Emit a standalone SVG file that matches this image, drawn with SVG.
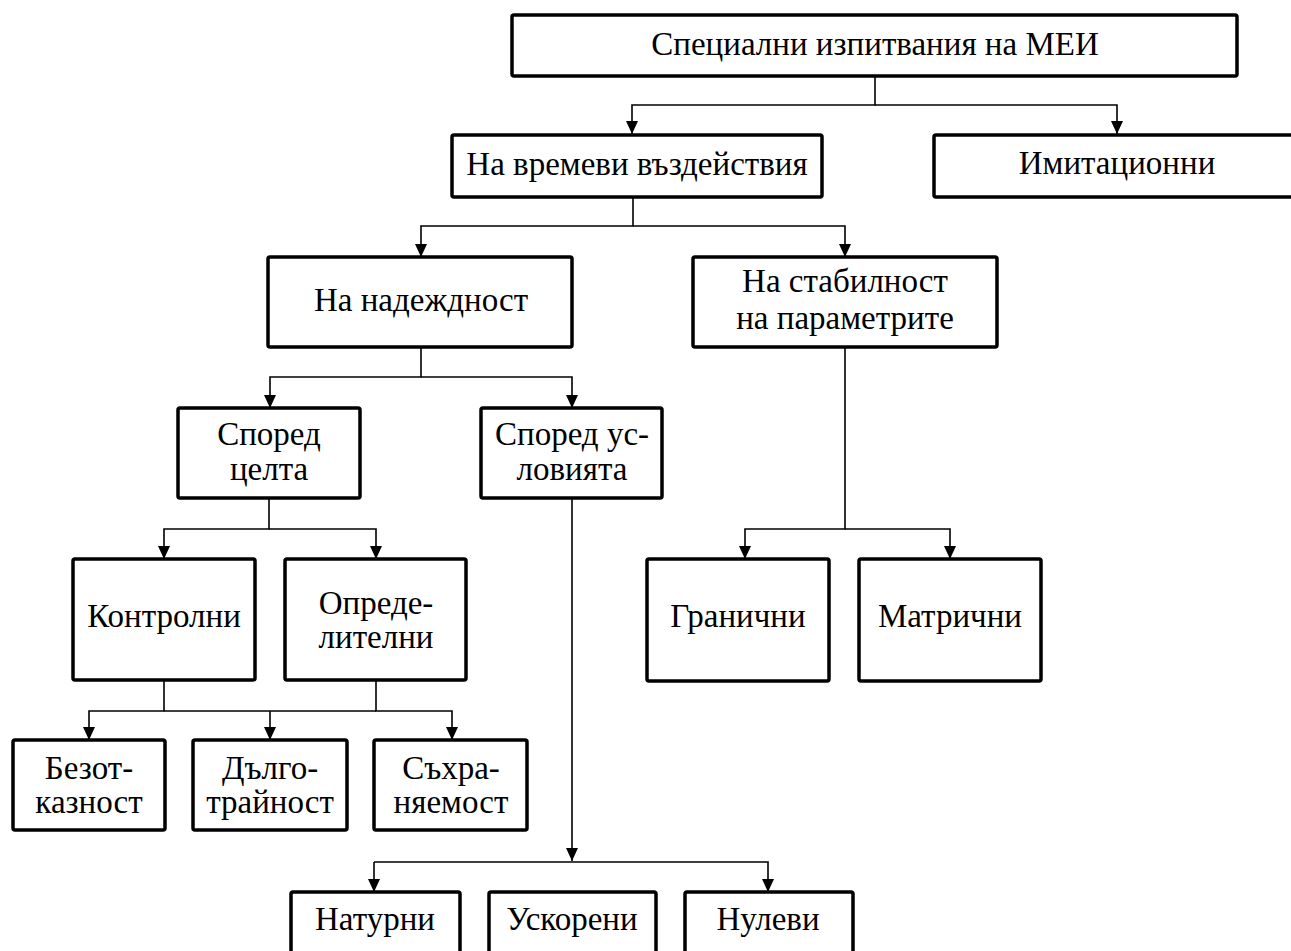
<svg xmlns="http://www.w3.org/2000/svg" width="1291" height="951" viewBox="0 0 1291 951">
<style>
.box{fill:#fff;stroke:#000;stroke-width:3.5;}
.t{font-family:'Liberation Serif','DejaVu Serif',serif;font-size:33px;fill:#000;text-anchor:middle;}
.c{fill:none;stroke:#000;stroke-width:1.6;}
</style>
<defs>
<marker id="ar" markerWidth="14" markerHeight="12" refX="13" refY="6" orient="auto" markerUnits="userSpaceOnUse">
<path d="M0,0 L13,6 L0,12 Z" fill="#000"/>
</marker>
</defs>
<rect width="1291" height="951" fill="#fff"/>
<g id="connectors">
<path class="c" d="M875,76 V105 H632 V134" marker-end="url(#ar)"/>
<path class="c" d="M875,105 H1117 V134" marker-end="url(#ar)"/>
<path class="c" d="M633,197 V226 H421 V257" marker-end="url(#ar)"/>
<path class="c" d="M633,226 H845 V257" marker-end="url(#ar)"/>
<path class="c" d="M421,347 V377 H270 V408" marker-end="url(#ar)"/>
<path class="c" d="M421,377 H572 V408" marker-end="url(#ar)"/>
<path class="c" d="M269,498 V529 H164 V559" marker-end="url(#ar)"/>
<path class="c" d="M269,529 H376 V559" marker-end="url(#ar)"/>
<path class="c" d="M164,680 V711 H89 V740" marker-end="url(#ar)"/>
<path class="c" d="M376,680 V711 H452 V740" marker-end="url(#ar)"/>
<path class="c" d="M164,711 H376"/>
<path class="c" d="M270,711 V740" marker-end="url(#ar)"/>
<path class="c" d="M572,498 V861" marker-end="url(#ar)"/>
<path class="c" d="M374,862 H768 V892" marker-end="url(#ar)"/>
<path class="c" d="M374,862 V892" marker-end="url(#ar)"/>
<path class="c" d="M845,347 V529 H745 V559" marker-end="url(#ar)"/>
<path class="c" d="M845,529 H950 V559" marker-end="url(#ar)"/>
</g>
<g id="n1"><rect class="box" x="512" y="15" width="725" height="61" rx="2"/><text class="t" x="875" y="55">Специални изпитвания на МЕИ</text></g>
<g id="n2"><rect class="box" x="452" y="135" width="370" height="62" rx="2"/><text class="t" x="637" y="175">На времеви въздействия</text></g>
<g id="n3"><rect class="box" x="934" y="135" width="370" height="62" rx="2"/><text class="t" x="1117" y="174">Имитационни</text></g>
<g id="n4"><rect class="box" x="268" y="257" width="304" height="90" rx="2"/><text class="t" x="421" y="311">На надеждност</text></g>
<g id="n5"><rect class="box" x="693" y="257" width="304" height="90" rx="2"/><text class="t" x="845" y="292">На стабилност</text><text class="t" x="845" y="329">на параметрите</text></g>
<g id="n6"><rect class="box" x="178" y="408" width="182" height="90" rx="2"/><text class="t" x="269" y="445">Според</text><text class="t" x="269" y="480">целта</text></g>
<g id="n7"><rect class="box" x="481" y="408" width="181" height="90" rx="2"/><text class="t" x="572" y="445">Според ус-</text><text class="t" x="572" y="480">ловията</text></g>
<g id="n8"><rect class="box" x="73" y="559" width="182" height="121" rx="2"/><text class="t" x="164" y="627">Контролни</text></g>
<g id="n9"><rect class="box" x="285" y="559" width="181" height="121" rx="2"/><text class="t" x="376" y="614">Опреде-</text><text class="t" x="376" y="648">лителни</text></g>
<g id="n10"><rect class="box" x="13" y="740" width="152" height="90" rx="2"/><text class="t" x="89" y="779">Безот-</text><text class="t" x="89" y="813">казност</text></g>
<g id="n11"><rect class="box" x="193" y="740" width="154" height="90" rx="2"/><text class="t" x="270" y="779">Дълго-</text><text class="t" x="270" y="813">трайност</text></g>
<g id="n12"><rect class="box" x="374" y="740" width="153" height="90" rx="2"/><text class="t" x="451" y="779">Съхра-</text><text class="t" x="451" y="813">няемост</text></g>
<g id="n13"><rect class="box" x="647" y="559" width="182" height="122" rx="2"/><text class="t" x="738" y="627">Гранични</text></g>
<g id="n14"><rect class="box" x="859" y="559" width="182" height="122" rx="2"/><text class="t" x="950" y="627">Матрични</text></g>
<g id="n15"><rect class="box" x="291" y="892" width="169" height="80" rx="2"/><text class="t" x="375" y="930">Натурни</text></g>
<g id="n16"><rect class="box" x="489" y="892" width="167" height="80" rx="2"/><text class="t" x="572" y="930">Ускорени</text></g>
<g id="n17"><rect class="box" x="685" y="892" width="168" height="80" rx="2"/><text class="t" x="768" y="930">Нулеви</text></g>
</svg>
